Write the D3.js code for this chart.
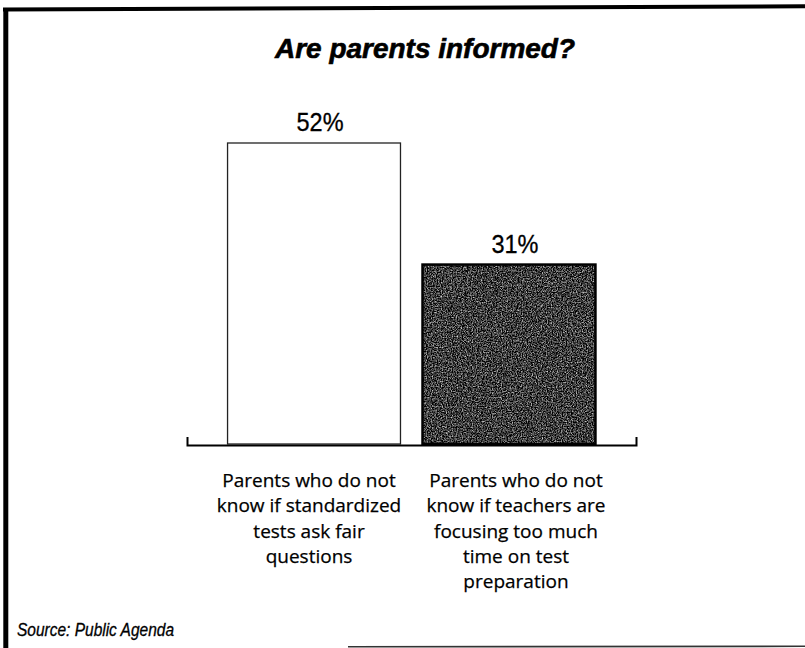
<!DOCTYPE html>
<html>
<head>
<meta charset="utf-8">
<script src="https://cdn.jsdelivr.net/npm/d3@7"></script>
<style>
  body { margin: 0; background: #fff; }
  svg { display: block; }
</style>
</head>
<body>
<div id="chart"></div>
<script>
// chart data
const categoryLines = [
  ["Parents who do not", "know if standardized", "tests ask fair", "questions"],
  ["Parents who do not", "know if teachers are", "focusing too much", "time on test", "preparation"]
];
const categoryIds = ["fair", "prep"];
const values = [52, 31];
const titleText = "Are parents informed?";
const sourceText = "Source: Public Agenda";

class BarChart {
  constructor(_config) {
    this.config = {
      parentElement: _config.parentElement,
      containerWidth: 805,
      containerHeight: 648,
      xRange: [187, 636],
      baseline: 444,
      topOfMax: 143,
    };
    this.initVis();
  }

  initVis() {
    let vis = this;
    vis.svg = d3.select(vis.config.parentElement).append("svg")
      .attr("width", vis.config.containerWidth)
      .attr("height", vis.config.containerHeight);

    // grainy dark fill to mimic the printed halftone
    const defs = vis.svg.append("defs");
    const f = defs.append("filter").attr("id", "grainF")
      .attr("color-interpolation-filters", "sRGB")
      .attr("x", 0).attr("y", 0).attr("width", "100%").attr("height", "100%");
    f.append("feTurbulence").attr("type", "fractalNoise")
      .attr("baseFrequency", 0.8).attr("numOctaves", 2).attr("seed", 4).attr("result", "n");
    f.append("feColorMatrix").attr("in", "n").attr("type", "matrix")
      .attr("values", "1.6 0 0 0 -0.56  1.6 0 0 0 -0.56  1.6 0 0 0 -0.56  0 0 0 0 1")
      .attr("result", "g");
    f.append("feComposite").attr("in", "g").attr("in2", "SourceGraphic").attr("operator", "in");

    vis.x = d3.scaleBand()
      .domain(categoryIds)
      .range(vis.config.xRange)
      .paddingInner(0.113)
      .paddingOuter(0.208);

    vis.y = d3.scaleLinear()
      .domain([0, d3.max(values)])
      .range([vis.config.baseline, vis.config.topOfMax]);

    vis.renderVis();
  }

  renderVis() {
    let vis = this;
    const data = categoryIds.map((id, i) => ({ id: id, value: values[i], lines: categoryLines[i], i: i }));

    // frame (scanned border pieces)
    vis.svg.append("line")
      .attr("x1", 3).attr("y1", 9.5).attr("x2", 805).attr("y2", 6.3)
      .attr("stroke", "#000").attr("stroke-width", 4);
    vis.svg.append("line")
      .attr("x1", 5.8).attr("y1", 8).attr("x2", 5.8).attr("y2", 648)
      .attr("stroke", "#000").attr("stroke-width", 5);
    vis.svg.append("line")
      .attr("x1", 348).attr("y1", 646.8).attr("x2", 805).attr("y2", 646.3)
      .attr("stroke", "#333").attr("stroke-width", 1.6);

    // title
    vis.svg.append("text")
      .attr("x", 425).attr("y", 58)
      .attr("text-anchor", "middle")
      .attr("textLength", 300).attr("lengthAdjust", "spacingAndGlyphs")
      .style("font-family", "'Liberation Sans', Arial, sans-serif")
      .style("font-weight", "bold").style("font-style", "italic")
      .style("font-size", "27px")
      .style("stroke", "#000").style("stroke-width", 0.6)
      .text(titleText);

    // bars
    const bars = vis.svg.append("g");
    bars.selectAll("rect.fill")
      .data(data)
      .join("rect")
      .attr("class", "fill")
      .attr("x", d => vis.x(d.id))
      .attr("y", d => vis.y(d.value))
      .attr("width", vis.x.bandwidth())
      .attr("height", d => vis.y(0) - vis.y(d.value))
      .attr("fill", (d, i) => i === 1 ? "#000" : "#fff")
      .attr("filter", (d, i) => i === 1 ? "url(#grainF)" : null);
    bars.selectAll("rect.outline")
      .data(data)
      .join("rect")
      .attr("class", "outline")
      .attr("x", d => vis.x(d.id))
      .attr("y", d => vis.y(d.value))
      .attr("width", vis.x.bandwidth())
      .attr("height", d => vis.y(0) - vis.y(d.value))
      .attr("fill", "none")
      .attr("stroke", (d, i) => i === 1 ? "#000" : "#222")
      .attr("stroke-width", (d, i) => i === 1 ? 2.5 : 1.3);

    // value labels
    vis.svg.append("g").selectAll("text")
      .data(data)
      .join("text")
      .attr("x", d => vis.x(d.id) + vis.x.bandwidth() / 2 + 6)
      .attr("y", d => vis.y(d.value) - 12)
      .attr("text-anchor", "middle")
      .attr("textLength", 47).attr("lengthAdjust", "spacingAndGlyphs")
      .style("font-family", "'Liberation Sans', Arial, sans-serif")
      .style("font-size", "25px")
      .style("stroke", "#000").style("stroke-width", 0.3)
      .text(d => d.value + "%");

    // baseline axis with upturned ends
    const axis = vis.svg.append("g")
      .attr("transform", `translate(0,${vis.config.baseline + 1})`)
      .call(d3.axisBottom(vis.x).tickSizeInner(0).tickSizeOuter(-8).tickFormat(""));
    axis.select(".domain").attr("stroke", "#000").attr("stroke-width", 2);
    axis.selectAll(".tick").remove();

    // category labels
    const labels = vis.svg.append("g").selectAll("text")
      .data(data)
      .join("text")
      .attr("text-anchor", "middle")
      .style("font-family", "'Open Sans', sans-serif")
      .style("font-size", "19px")
      .style("stroke", "#000").style("stroke-width", 0.25)
      .attr("fill", "#000");
    labels.selectAll("tspan")
      .data(d => d.lines.map(l => ({ l: l, d: d })))
      .join("tspan")
      .attr("x", t => vis.x(t.d.id) + vis.x.bandwidth() / 2 + (t.d.i === 0 ? -5 : 7))
      .attr("y", (t, j) => vis.config.baseline + 43 + j * 25.3)
      .text(t => t.l);

    // source
    vis.svg.append("text")
      .attr("x", 17).attr("y", 636)
      .attr("textLength", 157).attr("lengthAdjust", "spacingAndGlyphs")
      .style("font-family", "'Liberation Sans Narrow', 'Liberation Sans', Arial, sans-serif")
      .style("font-style", "italic")
      .style("font-size", "18px")
      .style("stroke", "#000").style("stroke-width", 0.3)
      .text(sourceText);
  }
}

const chart = new BarChart({ parentElement: "#chart" });
</script>
</body>
</html>
